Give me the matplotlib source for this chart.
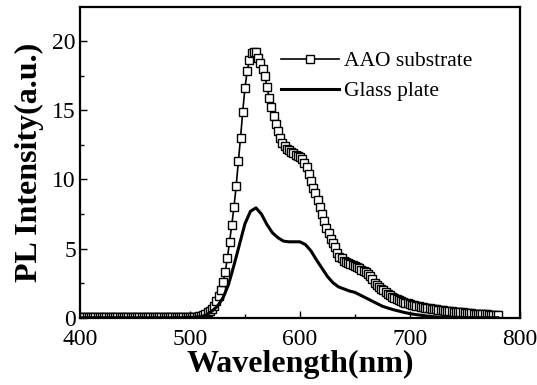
import matplotlib.pyplot as plt
import numpy as np

# wavelengths in nm
wl_aao = np.arange(400, 782, 2)
aao = [0.06, 0.05, 0.06, 0.07, 0.05, 0.06, 0.05, 0.06, 0.07, 0.06,
       0.05, 0.06, 0.06, 0.05, 0.07, 0.06, 0.05, 0.06, 0.07, 0.06,
       0.05, 0.06, 0.06, 0.07, 0.05, 0.06, 0.07, 0.06, 0.05, 0.06,
       0.06, 0.07, 0.05, 0.06, 0.06, 0.07, 0.06, 0.05, 0.06, 0.07,
       0.06, 0.06, 0.07, 0.06, 0.07, 0.07, 0.08, 0.07, 0.08, 0.08,
       0.08, 0.08, 0.1, 0.1, 0.12, 0.15, 0.2, 0.3, 0.4, 0.5,
       0.65, 0.9, 1.2, 1.6, 2.0, 2.6, 3.3, 4.3, 5.5, 6.7,
       8.0, 9.5, 11.3, 13.0, 14.9, 16.6, 17.8, 18.6, 19.1, 19.2,
       19.2, 18.8, 18.4, 18.0, 17.5, 16.7, 15.9, 15.2, 14.6, 14.0,
       13.5, 13.0, 12.6, 12.4, 12.2, 12.1, 12.0, 11.9, 11.8, 11.7,
       11.6, 11.5, 11.2, 10.9, 10.4, 9.9, 9.4, 9.0, 8.5, 8.0,
       7.5, 7.0, 6.5, 6.1, 5.7, 5.4, 5.1, 4.7, 4.4, 4.3,
       4.15, 4.05, 3.95, 3.9, 3.8, 3.75, 3.65, 3.6, 3.5, 3.4,
       3.3, 3.15, 3.0, 2.8, 2.55, 2.4, 2.25, 2.1, 2.0, 1.85,
       1.75, 1.65, 1.55, 1.45, 1.4, 1.3, 1.25, 1.15, 1.1, 1.05,
       1.0, 0.95, 0.92, 0.88, 0.85, 0.82, 0.78, 0.75, 0.72, 0.7,
       0.67, 0.65, 0.62, 0.6, 0.57, 0.55, 0.53, 0.52, 0.5, 0.48,
       0.46, 0.45, 0.43, 0.41, 0.4, 0.38, 0.36, 0.34, 0.33, 0.32,
       0.31, 0.3, 0.29, 0.28, 0.27, 0.26, 0.25, 0.24, 0.23, 0.22,
       0.2]

wl_glass = np.arange(400, 785, 5)
glass = [0.02, 0.02, 0.02, 0.02, 0.02, 0.02, 0.02, 0.02, 0.02, 0.02,
         0.02, 0.02, 0.02, 0.02, 0.02, 0.02, 0.02, 0.02, 0.02, 0.03,
         0.05, 0.07, 0.1, 0.22, 0.5, 0.85, 1.45, 2.4, 3.8, 5.3,
         6.8, 7.7, 7.95, 7.5, 6.75, 6.15, 5.8, 5.55, 5.5, 5.5,
         5.5, 5.3, 4.85, 4.2, 3.6, 3.0, 2.55, 2.25, 2.1, 1.95,
         1.85, 1.65, 1.45, 1.25, 1.05, 0.85, 0.72, 0.6, 0.5, 0.4,
         0.32, 0.25, 0.2, 0.15, 0.1, 0.07, 0.05, 0.04, 0.03, 0.03,
         0.02, 0.02, 0.02, 0.02, 0.02, 0.02, 0.02]

plt.rcParams['font.family'] = 'Liberation Serif'

fig = plt.figure(figsize=(5.37, 3.85), dpi=100)
ax = fig.add_axes([0.149, 0.174, 0.819, 0.808])

ax.plot(wl_aao, aao, color='black', lw=1.2, marker='s', ms=5.5,
        mfc='white', mec='black', mew=1.0, label='AAO substrate')
ax.plot(wl_glass, glass, color='black', lw=2.2, label='Glass plate')

ax.set_xlim(400, 800)
ax.set_ylim(0, 22.45)
ax.set_xticks([400, 500, 600, 700, 800])
ax.set_xticks([450, 550, 650, 750], minor=True)
ax.set_yticks([0, 5, 10, 15, 20])
ax.set_yticks([2.5, 7.5, 12.5, 17.5], minor=True)
ax.tick_params(which='both', direction='in', labelsize=17, width=1)
ax.tick_params(which='major', length=5)
ax.tick_params(which='minor', length=3)
ax.tick_params(axis='x', pad=8)
ax.tick_params(axis='y', pad=3)
for s in ax.spines.values():
    s.set_linewidth(1.6)

ax.set_xlabel('Wavelength(nm)', fontsize=23, fontweight='bold', labelpad=0)
ax.set_ylabel('PL Intensity(a.u.)', fontsize=23, fontweight='bold', labelpad=6)

ax.legend(loc='upper left', bbox_to_anchor=(0.438, 0.885), frameon=False,
          fontsize=15.5, handlelength=2.7, handletextpad=0.2, labelspacing=0.45,
          numpoints=1, borderaxespad=0)

fig.savefig('out.png', dpi=100)
